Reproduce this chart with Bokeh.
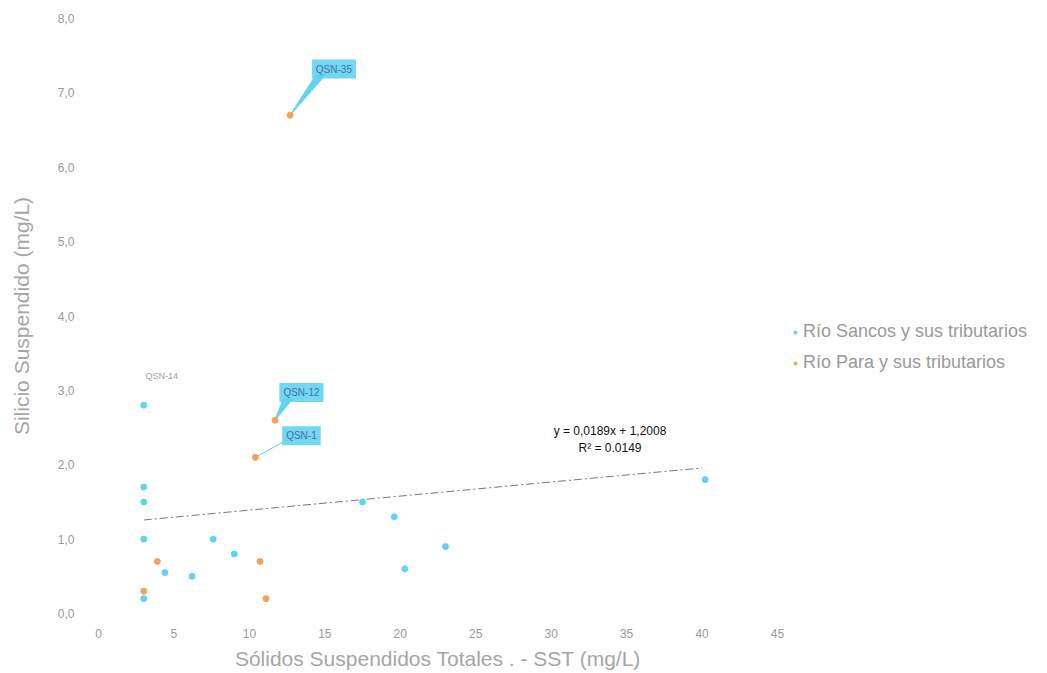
from bokeh.plotting import figure
from bokeh.models import (Label, Legend, LegendItem, FixedTicker, Range1d)
from bokeh.embed import file_html
from bokeh.resources import INLINE

# ---- data ----
sancos_x = [3.0, 3.0, 3.0, 3.0, 3.0, 4.4, 6.2, 7.6, 9.0, 17.5, 19.6, 20.3, 23.0, 40.2]
sancos_y = [2.8, 1.7, 1.5, 1.0, 0.2, 0.55, 0.5, 1.0, 0.8, 1.5, 1.3, 0.6, 0.9, 1.8]
para_x = [12.7, 11.7, 10.4, 3.0, 3.9, 10.7, 11.1]
para_y = [6.7, 2.6, 2.1, 0.3, 0.7, 0.7, 0.2]

series_names = ["Río Sancos y sus tributarios", "Río Para y sus tributarios"]
slope, intercept = 0.0189, 1.2008
trend_x = [3.0, 40.0]
eq_text = "y = 0,0189x + 1,2008"
r2_text = "R² = 0.0149"

x_ticks = [0, 5, 10, 15, 20, 25, 30, 35, 40, 45]
y_ticks = [0, 1, 2, 3, 4, 5, 6, 7, 8]

# callout labels: (name, point x, point y, box dx, box dy) in data units
callouts = [
    ("QSN-35", 12.7, 6.7, 2.9, 0.62),
    ("QSN-12", 11.7, 2.6, 1.75, 0.37),
    ("QSN-1", 10.4, 2.1, 3.05, 0.29),
]
plain_label = ("QSN-14", 3.0, 2.8)

CYAN = "#62d3f2"
ORANGE = "#f5a25d"
GRAY = "#9a9a9a"
TGRAY = "#a6a6a6"

p = figure(frame_width=679, frame_height=595, output_backend="svg",
           toolbar_location=None, min_border_left=98, min_border_top=18,
           min_border_bottom=54, min_border_right=262,
           x_range=Range1d(0, 45), y_range=Range1d(0, 8))
p.outline_line_color = None
p.grid.grid_line_color = None
p.background_fill_color = "white"
p.border_fill_color = "white"

for ax in (p.xaxis, p.yaxis):
    ax.axis_line_color = None
    ax.major_tick_line_color = None
    ax.minor_tick_line_color = None
    ax.major_label_text_color = GRAY
    ax.major_label_text_font = "Liberation Sans"
    ax.major_label_text_font_size = "12px"
    ax.axis_label_text_color = TGRAY
    ax.axis_label_text_font = "Liberation Sans"
    ax.axis_label_text_font_size = "21px"
    ax.axis_label_text_font_style = "normal"

p.xaxis.ticker = FixedTicker(ticks=x_ticks)
p.yaxis.ticker = FixedTicker(ticks=y_ticks)
p.yaxis.major_label_overrides = {t: f"{t:.1f}".replace(".", ",") for t in y_ticks}
p.xaxis.major_label_standoff = 9
p.yaxis.major_label_standoff = 18
p.xaxis.axis_label_standoff = 6
p.yaxis.axis_label_standoff = 22
p.xaxis.axis_label = "Sólidos Suspendidos Totales . - SST (mg/L)"
p.yaxis.axis_label = "Silicio Suspendido (mg/L)"

# trend line
trend_y = [slope * x + intercept for x in trend_x]
p.line(trend_x, trend_y, line_color="#555555", line_width=1, line_dash="8 3 2 3", line_alpha=0.8)

# callouts
for name, px, py, dx, dy in callouts:
    bx, by = px + dx, py + dy
    if name == "QSN-1":
        p.line([px, bx - 0.9], [py, by - 0.05], line_color=CYAN, line_width=1)
    else:
        p.patch([px, bx - 1.2, bx - 0.55], [py, by - 0.08, by - 0.08],
                fill_color=CYAN, line_color=CYAN, line_width=1)
    p.add_layout(Label(x=bx, y=by, text=name, text_align="center", text_baseline="middle",
                       text_font_size="10px", text_color="#4a6fa0", text_font="Liberation Sans",
                       background_fill_color=CYAN, background_fill_alpha=0.9,
                       padding=4))

p.add_layout(Label(x=plain_label[1] + 1.2, y=plain_label[2] + 0.4, text=plain_label[0],
                   text_align="center", text_baseline="middle", text_font_size="9px",
                   text_color="#a0a0a0", text_font="Liberation Sans"))

r1 = p.scatter(sancos_x, sancos_y, size=6, fill_color=CYAN, line_color=CYAN)
r2 = p.scatter(para_x, para_y, size=6, fill_color=ORANGE, line_color=ORANGE)

# equation
p.add_layout(Label(x=33.9, y=2.45, text=eq_text, text_align="center", text_baseline="middle",
                   text_font_size="12px", text_color="#111111", text_font="Liberation Sans"))
p.add_layout(Label(x=33.9, y=2.23, text=r2_text, text_align="center", text_baseline="middle",
                   text_font_size="12px", text_color="#111111", text_font="Liberation Sans"))

legend = Legend(items=[LegendItem(label=series_names[0], renderers=[r1]),
                       LegendItem(label=series_names[1], renderers=[r2])],
                location=(14, 240), border_line_color=None, background_fill_alpha=0,
                label_text_font="Liberation Sans", label_text_font_size="18px",
                label_text_color=GRAY, glyph_width=8, glyph_height=8, spacing=10,
                label_standoff=4, margin=0, padding=0)
p.add_layout(legend, "right")

open("out.html", "w").write(file_html(p, INLINE))
